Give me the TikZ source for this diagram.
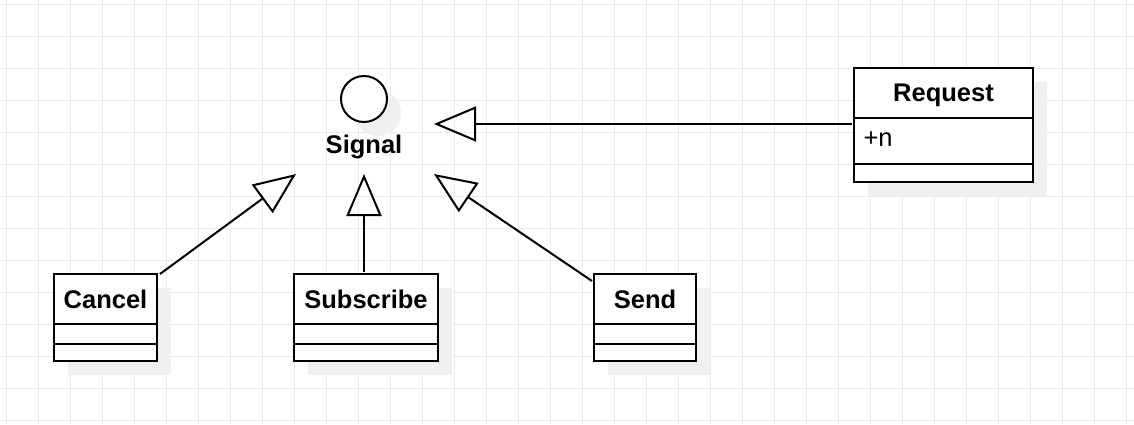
\documentclass[tikz,border=0pt]{standalone}
\usepackage{fontspec}
\setmainfont{Liberation Sans}
\usetikzlibrary{arrows.meta,positioning}

\newcommand{\hdrfont}{\fontsize{25.5}{30}\selectfont\bfseries}
\newcommand{\attrfont}{\fontsize{25.5}{30}\selectfont}

\tikzset{
  gridline/.style={draw=black!8, line width=1pt},
  classbox/.style={draw, line width=2pt, fill=white, inner sep=0pt, outer sep=0pt, anchor=north west, font=\hdrfont, text depth=-1pt},
  compart/.style={draw, line width=2pt, fill=white},
  dropshade/.style={fill=black!6, draw=none},
  inherit/.style={line width=2pt, -{Triangle[open, length=42pt, width=35pt, line width=2pt]}},
}

\begin{document}
\begin{tikzpicture}[x=1pt, y=-1pt, line join=miter]
                \fill[white] (0,0) rectangle (1134,424);
                \useasboundingbox (0,0) rectangle (1134,424);

                % grid
                \foreach \x in {6,38,...,1134} \draw[gridline] (\x,0) -- (\x,424);
                \foreach \y in {4,36,...,424} \draw[gridline] (0,\y) -- (1134,\y);

                % shadows
                \fill[dropshade] (378,113) circle (23);
                \fill[dropshade] (868,82) rectangle (1047,196);
                \fill[dropshade] (68,288) rectangle (171,375);
                \fill[dropshade] (308,288) rectangle (452,375);
                \fill[dropshade] (608,288) rectangle (710,375);

                % interface Signal
                \node[circle, draw, line width=2pt, fill=white, minimum size=46pt, inner sep=0pt] (lollipop) at (364,99) {};
                \node[font=\hdrfont] (signallabel) at (364,147) {Signal};
                \node[minimum width=140pt, minimum height=100pt, inner sep=0pt, outer sep=0pt] (signal) at (366,124) {};

                % Request
                \node[classbox, minimum width=179pt, minimum height=50pt] (request) at (854,68) {Request};
                \draw[compart] (request.south west) rectangle ++(179,46);
                \draw[compart] (854,164) rectangle ++(179,18);
                \node[font=\attrfont, anchor=west] (reqattr) at (860,139) {+n};

                % Cancel
                \node[classbox, minimum width=103pt, minimum height=50pt] (cancel) at (54,274) {Cancel};
                \draw[compart] (cancel.south west) rectangle ++(103,20);
                \draw[compart] (54,344) rectangle ++(103,17);

                % Subscribe
                \node[classbox, minimum width=144pt, minimum height=50pt] (subscribe) at (294,274) {Subscribe};
                \draw[compart] (subscribe.south west) rectangle ++(144,20);
                \draw[compart] (294,344) rectangle ++(144,17);

                % Send
                \node[classbox, minimum width=102pt, minimum height=50pt] (send) at (594,274) {Send};
                \draw[compart] (send.south west) rectangle ++(102,20);
                \draw[compart] (594,344) rectangle ++(102,17);

                % generalisations
                \draw[inherit] ([xshift=-2pt]request.west |- signal.east) -- ([xshift=-2pt]signal.east);
                \draw[inherit] ([xshift=3pt]cancel.north east) -- (signal.south west);
                \draw[inherit] ([xshift=-2pt, yshift=2pt]subscribe.north) -- ([xshift=-2pt]signal.south);
                \draw[inherit] ([xshift=-2pt, yshift=-7pt]send.north west) -- ([xshift=-2pt]signal.south east);
\end{tikzpicture}
\end{document}
